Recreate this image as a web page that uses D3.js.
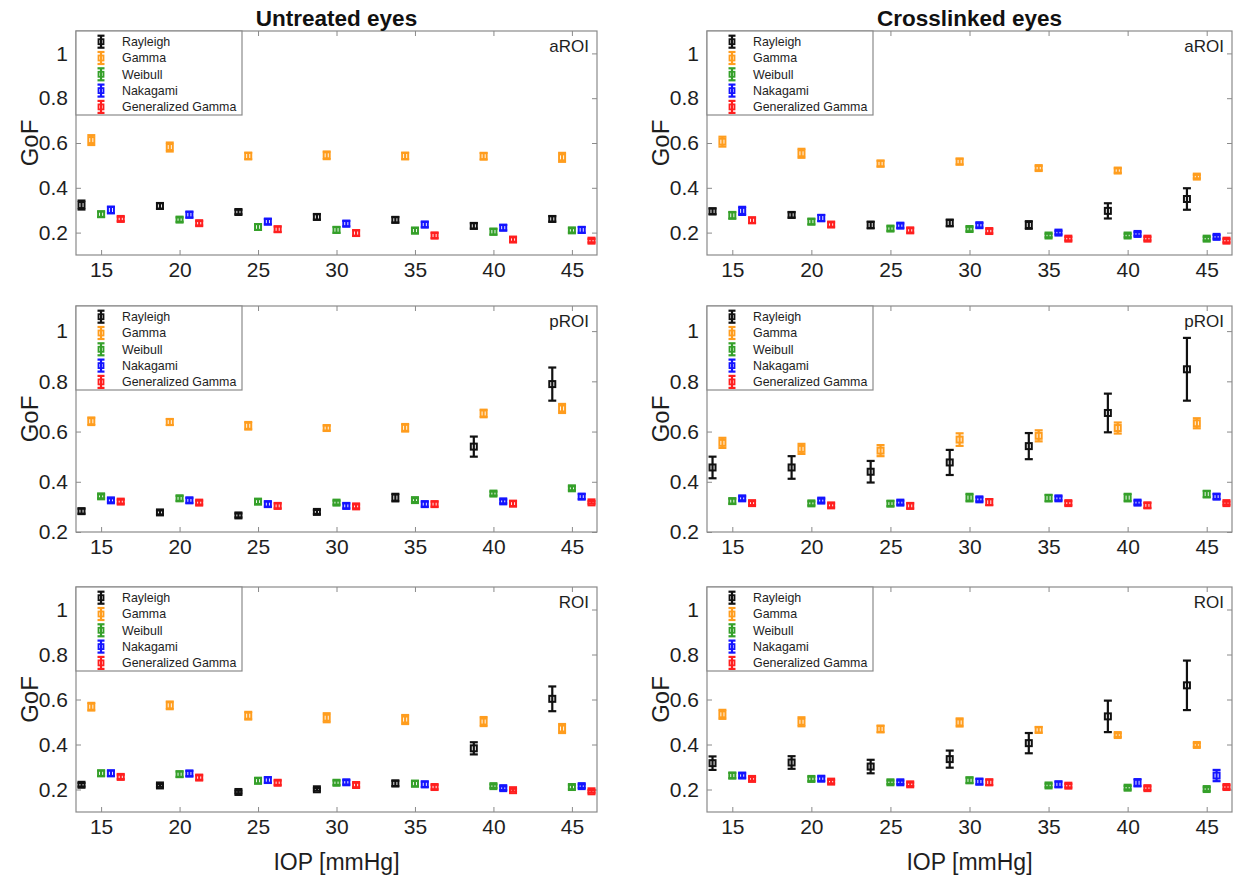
<!DOCTYPE html>
<html>
<head>
<meta charset="utf-8">
<script src="https://cdn.jsdelivr.net/npm/d3@7"></script>
<style>
  body { margin: 0; background: #fff; }
  svg { font-family: Arial, "Liberation Sans", sans-serif; }
</style>
</head>
<body>
<div id="chart"></div>
<script>
// data
const iop = [15, 20, 25, 30, 35, 40, 45];
const models = ["Rayleigh", "Gamma", "Weibull", "Nakagami", "Generalized Gamma"];
const modelColors = ["#111111", "#ff9d1e", "#35a02a", "#1414ff", "#ff1f1f"];
const yTicks = [0.2, 0.4, 0.6, 0.8, 1];
const columnTitles = ["Untreated eyes", "Crosslinked eyes"];
const roiLabels = ["aROI", "pROI", "ROI"];
const yDomains = [[0.1, 1.1], [0.2, 1.1], [0.1, 1.1]];

// rows follow models order
const untreatedAroi = [
  [0.323, 0.319, 0.292, 0.270, 0.257, 0.230, 0.261],
  [0.613, 0.582, 0.542, 0.545, 0.542, 0.541, 0.536],
  [0.282, 0.258, 0.225, 0.212, 0.209, 0.204, 0.210],
  [0.301, 0.280, 0.249, 0.240, 0.236, 0.222, 0.212],
  [0.261, 0.242, 0.215, 0.198, 0.187, 0.169, 0.164]
];
const untreatedAroiErr = [
  [0.020, 0.012, 0.010, 0.012, 0.012, 0.012, 0.012],
  [0.022, 0.020, 0.015, 0.017, 0.015, 0.015, 0.020],
  [0.012, 0.010, 0.013, 0.013, 0.012, 0.013, 0.010],
  [0.015, 0.013, 0.012, 0.012, 0.012, 0.012, 0.013],
  [0.010, 0.010, 0.012, 0.012, 0.012, 0.010, 0.008]
];
const crosslinkedAroi = [
  [0.295, 0.279, 0.234, 0.243, 0.234, 0.297, 0.350],
  [0.606, 0.554, 0.508, 0.517, 0.488, 0.477, 0.450],
  [0.277, 0.249, 0.218, 0.216, 0.187, 0.187, 0.173],
  [0.297, 0.265, 0.231, 0.233, 0.200, 0.194, 0.181],
  [0.255, 0.236, 0.210, 0.207, 0.173, 0.173, 0.164]
];
const crosslinkedAroiErr = [
  [0.013, 0.012, 0.015, 0.015, 0.017, 0.034, 0.048],
  [0.022, 0.020, 0.013, 0.013, 0.010, 0.010, 0.008],
  [0.015, 0.012, 0.010, 0.010, 0.008, 0.008, 0.008],
  [0.018, 0.014, 0.010, 0.010, 0.008, 0.008, 0.008],
  [0.012, 0.010, 0.010, 0.010, 0.008, 0.008, 0.008]
];
const untreatedProi = [
  [0.283, 0.278, 0.266, 0.280, 0.337, 0.540, 0.789],
  [0.641, 0.638, 0.623, 0.614, 0.615, 0.672, 0.692],
  [0.342, 0.334, 0.321, 0.317, 0.327, 0.353, 0.374],
  [0.326, 0.326, 0.311, 0.304, 0.311, 0.322, 0.341],
  [0.321, 0.317, 0.304, 0.302, 0.311, 0.313, 0.318]
];
const untreatedProiErr = [
  [0.010, 0.008, 0.008, 0.008, 0.015, 0.040, 0.066],
  [0.015, 0.012, 0.015, 0.010, 0.015, 0.015, 0.018],
  [0.008, 0.010, 0.010, 0.008, 0.008, 0.008, 0.008],
  [0.008, 0.010, 0.010, 0.010, 0.010, 0.008, 0.010],
  [0.008, 0.008, 0.010, 0.008, 0.010, 0.010, 0.005]
];
const crosslinkedProi = [
  [0.457, 0.457, 0.440, 0.477, 0.542, 0.674, 0.848],
  [0.555, 0.531, 0.524, 0.568, 0.583, 0.614, 0.633],
  [0.323, 0.314, 0.313, 0.337, 0.335, 0.337, 0.351],
  [0.334, 0.325, 0.317, 0.330, 0.334, 0.317, 0.341],
  [0.315, 0.306, 0.304, 0.319, 0.315, 0.306, 0.315]
];
const crosslinkedProiErr = [
  [0.043, 0.045, 0.043, 0.050, 0.052, 0.077, 0.125],
  [0.020, 0.020, 0.022, 0.025, 0.022, 0.022, 0.020],
  [0.010, 0.008, 0.010, 0.015, 0.013, 0.015, 0.013],
  [0.008, 0.008, 0.008, 0.008, 0.008, 0.008, 0.010],
  [0.008, 0.008, 0.010, 0.012, 0.008, 0.010, 0.006]
];
const untreatedRoi = [
  [0.221, 0.218, 0.189, 0.201, 0.227, 0.383, 0.603],
  [0.568, 0.574, 0.528, 0.519, 0.511, 0.502, 0.471],
  [0.272, 0.268, 0.239, 0.230, 0.226, 0.215, 0.211],
  [0.272, 0.271, 0.242, 0.232, 0.223, 0.206, 0.215],
  [0.256, 0.253, 0.230, 0.220, 0.211, 0.197, 0.192]
];
const untreatedRoiErr = [
  [0.008, 0.006, 0.006, 0.006, 0.012, 0.027, 0.055],
  [0.017, 0.017, 0.017, 0.020, 0.020, 0.020, 0.020],
  [0.012, 0.012, 0.012, 0.010, 0.012, 0.008, 0.010],
  [0.012, 0.012, 0.012, 0.010, 0.012, 0.008, 0.008],
  [0.010, 0.010, 0.010, 0.010, 0.010, 0.006, 0.006]
];
const crosslinkedRoi = [
  [0.317, 0.320, 0.302, 0.335, 0.406, 0.525, 0.663],
  [0.534, 0.501, 0.469, 0.498, 0.465, 0.442, 0.398],
  [0.262, 0.247, 0.232, 0.241, 0.218, 0.208, 0.202],
  [0.262, 0.248, 0.232, 0.235, 0.223, 0.230, 0.262],
  [0.247, 0.235, 0.223, 0.232, 0.217, 0.206, 0.211]
];
const crosslinkedRoiErr = [
  [0.030, 0.028, 0.030, 0.038, 0.045, 0.070, 0.110],
  [0.020, 0.020, 0.015, 0.018, 0.012, 0.008, 0.008],
  [0.012, 0.010, 0.008, 0.012, 0.008, 0.008, 0.008],
  [0.010, 0.010, 0.008, 0.012, 0.012, 0.016, 0.025],
  [0.008, 0.008, 0.008, 0.012, 0.008, 0.008, 0.008]
];

const panelMeans = [
  [untreatedAroi, crosslinkedAroi],
  [untreatedProi, crosslinkedProi],
  [untreatedRoi, crosslinkedRoi]
];
const panelErrs = [
  [untreatedAroiErr, crosslinkedAroiErr],
  [untreatedProiErr, crosslinkedProiErr],
  [untreatedRoiErr, crosslinkedRoiErr]
];

let width = 1235, height = 878;
let svg = d3.select("#chart").append("svg")
  .attr("width", width)
  .attr("height", height);

// panel boxes in pixels
let colX = [[76, 597], [707, 1232]];
let rowY = [[31, 255], [306, 532], [587, 812]];
let axisGrey = "#8a8a8a";
let textCol = "#1e1e1e";

// series dodge around each IOP value (in mmHg)
let dodge = d3.scalePoint().domain(models).range([-1.25, 1.25]);

for (let r = 0; r < 3; r++) {
  for (let c = 0; c < 2; c++) {
    let [x0, x1] = colX[c];
    let [y0, y1] = rowY[r];
    let x = d3.scaleLinear().domain([13.4, 46.6]).range([x0, x1]);
    let y = d3.scaleLinear().domain(yDomains[r]).range([y1, y0]);
    let g = svg.append("g");

    // axes, MATLAB style box with inward ticks
    let fmt = d => d === 1 ? "1" : d3.format(".1f")(d);
    let ax = [
      g.append("g").attr("transform", `translate(0,${y1})`)
        .call(d3.axisBottom(x).tickValues(iop).tickSize(-5).tickSizeOuter(0).tickPadding(7)),
      g.append("g").attr("transform", `translate(0,${y0})`)
        .call(d3.axisTop(x).tickValues(iop).tickSize(-5).tickSizeOuter(0).tickFormat("")),
      g.append("g").attr("transform", `translate(${x0},0)`)
        .call(d3.axisLeft(y).tickValues(yTicks).tickSize(-5).tickSizeOuter(0).tickPadding(8).tickFormat(fmt)),
      g.append("g").attr("transform", `translate(${x1},0)`)
        .call(d3.axisRight(y).tickValues(yTicks).tickSize(-5).tickSizeOuter(0).tickFormat(""))
    ];
    ax.forEach(a => {
      a.select(".domain").remove();
      a.selectAll(".tick line").attr("stroke", axisGrey);
      a.selectAll("text").attr("fill", textCol).style("font-size", "21px")
        .style("font-family", "Arial, 'Liberation Sans', sans-serif");
    });
    g.append("rect")
      .attr("x", x0).attr("y", y0)
      .attr("width", x1 - x0).attr("height", y1 - y0)
      .attr("fill", "none").attr("stroke", axisGrey).attr("stroke-width", 1.2);

    // error bars
    let means = panelMeans[r][c];
    let errs = panelErrs[r][c];
    let pts = [];
    models.forEach((m, i) => {
      iop.forEach((p, j) => {
        pts.push({ m: m, col: modelColors[i], xv: p + dodge(m), v: means[i][j], e: errs[i][j] });
      });
    });
    let bars = g.append("g").selectAll("g").data(pts).join("g")
      .attr("stroke", d => d.col)
      .attr("stroke-width", 2.2)
      .attr("fill", "none");
    bars.append("line")
      .attr("x1", d => x(d.xv)).attr("x2", d => x(d.xv))
      .attr("y1", d => y(d.v - d.e)).attr("y2", d => y(d.v + d.e));
    bars.append("line")
      .attr("x1", d => x(d.xv) - 4).attr("x2", d => x(d.xv) + 4)
      .attr("y1", d => y(d.v - d.e)).attr("y2", d => y(d.v - d.e));
    bars.append("line")
      .attr("x1", d => x(d.xv) - 4).attr("x2", d => x(d.xv) + 4)
      .attr("y1", d => y(d.v + d.e)).attr("y2", d => y(d.v + d.e));
    bars.append("rect")
      .attr("x", d => x(d.xv) - 3).attr("y", d => y(d.v) - 3)
      .attr("width", 6).attr("height", 6)
      .attr("stroke-width", 2);

    // legend
    let lg = g.append("g").attr("transform", `translate(${x0},${y0})`);
    lg.append("rect")
      .attr("width", 166).attr("height", 84)
      .attr("fill", "#fff").attr("stroke", axisGrey).attr("stroke-width", 1.2);
    models.forEach((m, i) => {
      let ly = 10.7 + i * 16.3;
      let item = lg.append("g").attr("transform", `translate(25,${ly})`)
        .attr("stroke", modelColors[i]).attr("stroke-width", 2.2).attr("fill", "none");
      item.append("line").attr("y1", -6).attr("y2", 6);
      item.append("line").attr("x1", -3.5).attr("x2", 3.5).attr("y1", -6).attr("y2", -6);
      item.append("line").attr("x1", -3.5).attr("x2", 3.5).attr("y1", 6).attr("y2", 6);
      item.append("rect").attr("x", -2.5).attr("y", -2.5).attr("width", 5).attr("height", 5)
        .attr("stroke-width", 1.8);
      lg.append("text")
        .attr("x", 46).attr("y", ly)
        .attr("dy", "0.35em")
        .attr("fill", textCol)
        .style("font-size", "12.4px")
        .text(m);
    });

    // roi tag
    g.append("text")
      .attr("x", x1 - 8).attr("y", y0 + 21)
      .attr("text-anchor", "end")
      .attr("fill", textCol)
      .style("font-size", "17px")
      .text(roiLabels[r]);

    // y label
    g.append("text")
      .attr("transform", `translate(${x0 - 38},${(y0 + y1) / 2}) rotate(-90)`)
      .attr("text-anchor", "middle")
      .attr("fill", textCol)
      .style("font-size", "24px")
      .text("GoF");

    if (r === 0) {
      g.append("text")
        .attr("x", (x0 + x1) / 2).attr("y", 26)
        .attr("text-anchor", "middle")
        .attr("fill", "#111")
        .style("font-size", "22.5px").style("font-weight", "bold")
        .text(columnTitles[c]);
    }
    if (r === 2) {
      g.append("text")
        .attr("x", (x0 + x1) / 2).attr("y", 870)
        .attr("text-anchor", "middle")
        .attr("fill", textCol)
        .style("font-size", "23px")
        .text("IOP [mmHg]");
    }
  }
}
</script>
</body>
</html>
